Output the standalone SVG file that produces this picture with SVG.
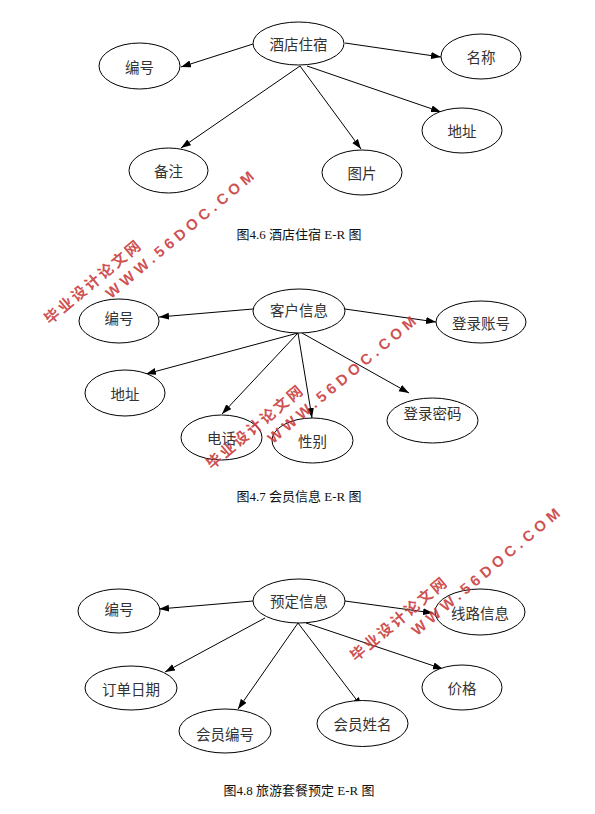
<svg xmlns="http://www.w3.org/2000/svg" width="595" height="814" viewBox="0 0 595 814">
<style>
.n ellipse{fill:#fff;stroke:#000;stroke-width:1}
.n text{font-family:"Noto Sans CJK SC","Noto Sans",sans-serif;font-size:14.5px;fill:#333;text-anchor:middle;dominant-baseline:central}
#connectors line{stroke:#000;stroke-width:1;marker-end:url(#ah)}
.cap{font-family:"Liberation Serif","Noto Sans CJK SC",serif;font-size:13px;font-weight:normal;fill:#111;text-anchor:middle}
.wm text{font-family:"Liberation Sans","Noto Sans CJK SC",sans-serif;font-weight:bold;fill:#c83a3a;fill-opacity:0.9}
</style>
<defs>
<marker id="ah" markerUnits="userSpaceOnUse" markerWidth="11" markerHeight="8" refX="10" refY="3.5" orient="auto"><path d="M0,0 L10,3.5 L0,7 z" fill="#000"/></marker>
</defs>
<rect width="595" height="814" fill="#fff"/>

<g id="connectors">
<!-- diagram 4.6 -->
<line x1="253" y1="44" x2="181" y2="67"/>
<line x1="345" y1="43" x2="441" y2="57"/>
<line x1="300" y1="66" x2="181" y2="148"/>
<line x1="300" y1="66" x2="361" y2="149"/>
<line x1="307" y1="66" x2="441" y2="112"/>
<!-- diagram 4.7 -->
<line x1="253" y1="309" x2="159" y2="317"/>
<line x1="345" y1="309" x2="436" y2="322"/>
<line x1="298" y1="333" x2="146" y2="374"/>
<line x1="298" y1="333" x2="222" y2="414"/>
<line x1="298" y1="333" x2="312" y2="418"/>
<line x1="302" y1="333" x2="409" y2="393"/>
<!-- diagram 4.8 -->
<line x1="253" y1="601" x2="159" y2="609"/>
<line x1="345" y1="601" x2="433" y2="613"/>
<line x1="265" y1="618" x2="165" y2="672"/>
<line x1="298" y1="623" x2="238" y2="709"/>
<line x1="298" y1="623" x2="362" y2="707"/>
<line x1="306" y1="623" x2="443" y2="669"/>
</g>

<!-- 4.6 nodes -->
<g id="n46_main" class="n"><ellipse cx="298.5" cy="43.5" rx="45.5" ry="21.5"/><text x="298.5" y="43.5">酒店住宿</text></g>
<g id="n46_id" class="n"><ellipse cx="139.5" cy="66" rx="40.5" ry="23"/><text x="139.5" y="66">编号</text></g>
<g id="n46_name" class="n"><ellipse cx="481" cy="56.5" rx="40" ry="22.5"/><text x="481" y="56.5">名称</text></g>
<g id="n46_addr" class="n"><ellipse cx="462" cy="130.5" rx="40" ry="22.5"/><text x="462" y="130.5">地址</text></g>
<g id="n46_note" class="n"><ellipse cx="168.5" cy="170.5" rx="39.5" ry="22.5"/><text x="168.5" y="170.5">备注</text></g>
<g id="n46_pic" class="n"><ellipse cx="362" cy="172.5" rx="40" ry="22.5"/><text x="362" y="172.5">图片</text></g>
<text class="cap" x="299" y="239">图4.6  酒店住宿 E-R 图</text>

<!-- 4.7 nodes -->
<g id="n47_main" class="n"><ellipse cx="299" cy="311" rx="46" ry="22"/><text x="299" y="309">客户信息</text></g>
<g id="n47_id" class="n"><ellipse cx="119" cy="321" rx="40" ry="22"/><text x="119" y="317">编号</text></g>
<g id="n47_acc" class="n"><ellipse cx="481" cy="322" rx="45" ry="21"/><text x="481" y="322">登录账号</text></g>
<g id="n47_addr" class="n"><ellipse cx="125" cy="393" rx="40" ry="23"/><text x="125" y="393">地址</text></g>
<g id="n47_tel" class="n"><ellipse cx="221.5" cy="437.5" rx="40.5" ry="22.5"/><text x="221.5" y="437.5">电话</text></g>
<g id="n47_sex" class="n"><ellipse cx="312.5" cy="440.5" rx="40.5" ry="22.5"/><text x="312.5" y="440.5">性别</text></g>
<g id="n47_pwd" class="n"><ellipse cx="432.5" cy="420.5" rx="45.5" ry="22.5"/><text x="432.5" y="412">登录密码</text></g>
<text class="cap" x="299" y="501">图4.7  会员信息 E-R 图</text>

<!-- 4.8 nodes -->
<g id="n48_main" class="n"><ellipse cx="299" cy="601" rx="46" ry="22"/><text x="299" y="600">预定信息</text></g>
<g id="n48_id" class="n"><ellipse cx="119" cy="611" rx="41" ry="22"/><text x="119" y="608">编号</text></g>
<g id="n48_route" class="n"><ellipse cx="480" cy="612" rx="45" ry="23"/><text x="480" y="612">线路信息</text></g>
<g id="n48_date" class="n"><ellipse cx="131" cy="688" rx="46" ry="22"/><text x="131" y="688">订单日期</text></g>
<g id="n48_price" class="n"><ellipse cx="462" cy="687.5" rx="40" ry="22.5"/><text x="462" y="687.5">价格</text></g>
<g id="n48_mno" class="n"><ellipse cx="225" cy="731" rx="46" ry="22"/><text x="225" y="733">会员编号</text></g>
<g id="n48_mname" class="n"><ellipse cx="362.5" cy="723.5" rx="45.5" ry="23"/><text x="362.5" y="723.5">会员姓名</text></g>
<text class="cap" x="299" y="795">图4.8  旅游套餐预定 E-R 图</text>

<!-- watermarks -->
<g class="wm" transform="translate(52,316) rotate(-40)">
<text x="-7.5" y="5.5" font-size="15" textLength="120" lengthAdjust="spacing">毕业设计论文网</text>
<text x="56" y="25" font-size="15" textLength="188" lengthAdjust="spacing">WWW.56DOC.COM</text>
</g>
<g class="wm" transform="translate(214,461) rotate(-40)">
<text x="-7.5" y="5.5" font-size="15" textLength="120" lengthAdjust="spacing">毕业设计论文网</text>
<text x="56" y="25" font-size="15" textLength="188" lengthAdjust="spacing">WWW.56DOC.COM</text>
</g>
<g class="wm" transform="translate(358,653) rotate(-40)">
<text x="-7.5" y="5.5" font-size="15" textLength="120" lengthAdjust="spacing">毕业设计论文网</text>
<text x="56" y="25" font-size="15" textLength="188" lengthAdjust="spacing">WWW.56DOC.COM</text>
</g>
</svg>
